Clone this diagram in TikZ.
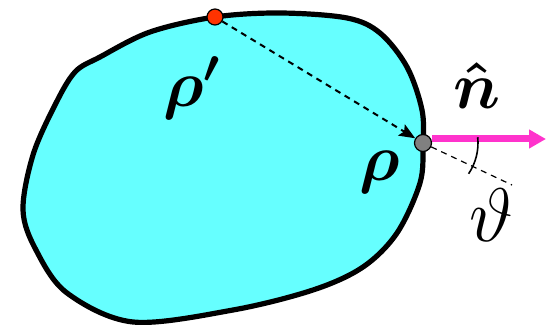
\RequirePackage{fix-cm}
\documentclass[tikz,border=0pt]{standalone}
\usepackage{amsmath}
\usepackage{bm}
\usepackage{tikz}
\usetikzlibrary{arrows.meta,calc}
\usepackage{xcolor}
\definecolor{blobfill}{HTML}{66FFFF}
\definecolor{srcred}{HTML}{FF3300}
\definecolor{normpink}{HTML}{FF33CC}

\begin{document}
\begin{tikzpicture}[
x=0.5pt,y=-0.5pt,
blob/.style={draw=black,line width=2.6pt,fill=blobfill},
dot/.style={circle,draw=black,line width=0.6pt,minimum size=8pt,inner sep=0pt},
dasharr/.style={-{Stealth[length=8pt,width=6.5pt,inset=1.5pt]},dash pattern=on 3pt off 2.5pt,line width=1pt},
dashln/.style={dash pattern=on 3pt off 2.5pt,line width=0.6pt},
narr/.style={-{Triangle[length=8.5pt,width=9pt]},line width=3.5pt,draw=normpink},
big/.style={inner sep=0pt,font=\fontsize{33}{36}\selectfont}
]
\useasboundingbox (0,0) rectangle (556,325);

\draw[blob] plot[smooth cycle,tension=0.55] coordinates {
(215,17) (280,13) (347,18) (380,33) (407,67) (422,110) (423,145) (420,183)
(397,233) (363,267) (313,290) (233,310) (133,322) (67,293) (36,250) (23,210)
(33,155) (55,105) (75,72) (100,57) (150,32)};

\node[dot,fill=srcred] (src) at (215,17) {};
\node[dot,fill=gray,minimum size=8.5pt] (obs) at (423,143) {};
\coordinate (tail) at (512,185);
\coordinate (ntip) at (546,139);

\node[big] (srclbl) at (192,88) {$\bm{\rho'}$};
\node[big] (obslbl) at (380,172) {$\bm{\rho}$};
\node[big] (nlbl) at (477,86) {$\bm{\hat{n}}$};
\node[inner sep=0pt,font=\fontsize{38}{40}\selectfont] (anglbl) at (491,215) {$\vartheta$};

\draw[dasharr] (src) -- (obs);
\draw[dashln] (obs) -- (tail);
\draw[narr] ([yshift=2pt]obs.east) -- (ntip);
\draw[line width=0.8pt] ($(obs)+(-6:55)$) arc[start angle=-6,end angle=34,radius=55];
\end{tikzpicture}
\end{document}
